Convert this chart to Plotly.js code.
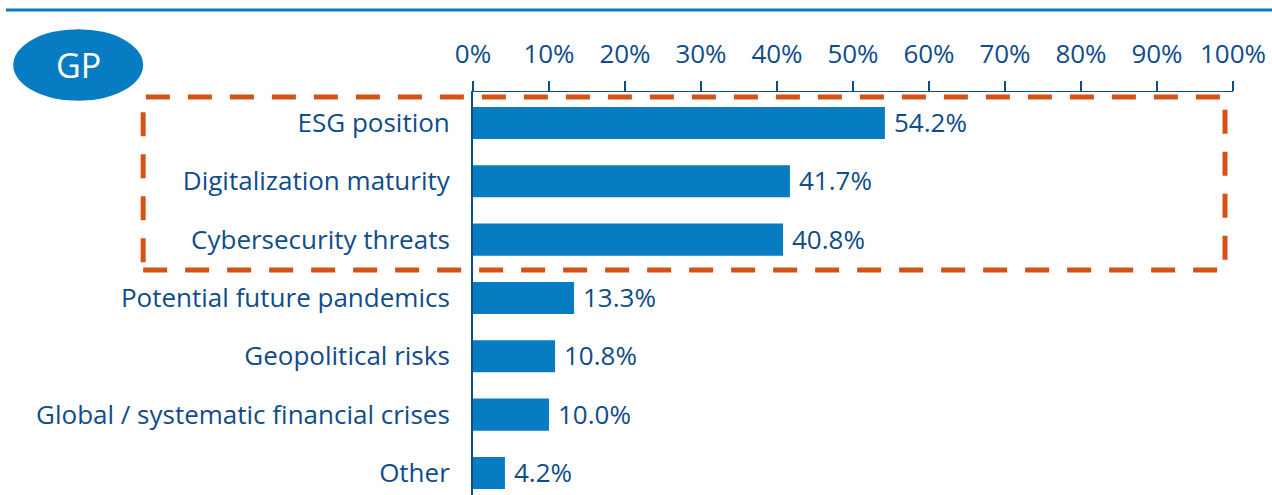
<!DOCTYPE html>
<html>
<head>
<meta charset="utf-8">
<script src="https://cdn.plot.ly/plotly-3.0.1.min.js"></script>
<style>html,body{margin:0;padding:0;background:#fff;}#chart{width:1272px;height:495px;}</style>
</head>
<body>
<div id="chart"></div>
<script>
const categories = ["ESG position", "Digitalization maturity", "Cybersecurity threats", "Potential future pandemics", "Geopolitical risks", "Global / systematic financial crises", "Other"];
const values = [54.2, 41.7, 40.8, 13.3, 10.8, 10.0, 4.2];
const valueLabels = ["54.2%", "41.7%", "40.8%", "13.3%", "10.8%", "10.0%", "4.2%"];
const tickVals = [0, 10, 20, 30, 40, 50, 60, 70, 80, 90, 100];
const tickText = ["0%", "10%", "20%", "30%", "40%", "50%", "60%", "70%", "80%", "90%", "100%"];
const badge = "GP";

const darkBlue = "#0f4c8a";
const barBlue = "#077cc2";
const orange = "#d65116";
const fontFam = "'Open Sans', Lato, sans-serif";

const trace = {
  type: "bar",
  orientation: "h",
  x: values,
  y: categories,
  marker: {color: barBlue},
  width: 0.55,
  hoverinfo: "none"
};

const valueAnnotations = values.map((v, i) => ({
  xref: "x", yref: "y", x: v, y: categories[i], text: valueLabels[i],
  showarrow: false, xanchor: "left", yanchor: "middle", xshift: 7, yshift: 1,
  font: {family: fontFam, size: 26, color: darkBlue}
}));

const layout = {
  width: 1272,
  height: 495,
  margin: {l: 473, r: 39, t: 92, b: 0, pad: 0},
  paper_bgcolor: "#fff",
  plot_bgcolor: "#fff",
  showlegend: false,
  font: {family: fontFam, color: darkBlue},
  xaxis: {
    side: "top",
    range: [0, 100],
    tickvals: tickVals,
    ticktext: tickText,
    ticks: "outside",
    ticklen: 10,
    tickwidth: 1.5,
    tickcolor: darkBlue,
    ticklabelstandoff: 7,
    showline: true,
    linecolor: darkBlue,
    linewidth: 1.5,
    showgrid: false,
    zeroline: false,
    tickfont: {family: fontFam, size: 26, color: darkBlue},
    fixedrange: true
  },
  yaxis: {
    type: "category",
    autorange: false,
    range: [6.377, -0.53],
    showline: true,
    linecolor: darkBlue,
    linewidth: 2,
    ticks: "",
    ticklabelstandoff: 16,
    showgrid: false,
    zeroline: false,
    tickfont: {family: fontFam, size: 26, color: darkBlue},
    fixedrange: true
  },
  shapes: [
    {type: "line", xref: "paper", yref: "paper", x0: -0.6145, x1: 1.052, y0: 1.2035, y1: 1.2035,
     line: {color: barBlue, width: 3}},
    {type: "rect", xref: "paper", yref: "paper", x0: -0.434, x1: 0.9895, y0: 0.5583, y1: 0.9876,
     line: {color: orange, width: 5, dash: "24px,18px"}, fillcolor: "rgba(0,0,0,0)", layer: "above"},
    {type: "circle", xref: "paper", yref: "paper", x0: -0.605, x1: -0.434, y0: 0.978, y1: 1.156,
     line: {width: 0}, fillcolor: barBlue}
  ],
  annotations: [
    {xref: "paper", yref: "paper", x: -0.5195, y: 1.067, text: badge, showarrow: false,
     font: {family: fontFam, size: 34, color: "#ffffff"}, xanchor: "center", yanchor: "middle"}
  ].concat(valueAnnotations)
};

Plotly.newPlot("chart", [trace], layout, {displayModeBar: false, staticPlot: true});
</script>
</body>
</html>
